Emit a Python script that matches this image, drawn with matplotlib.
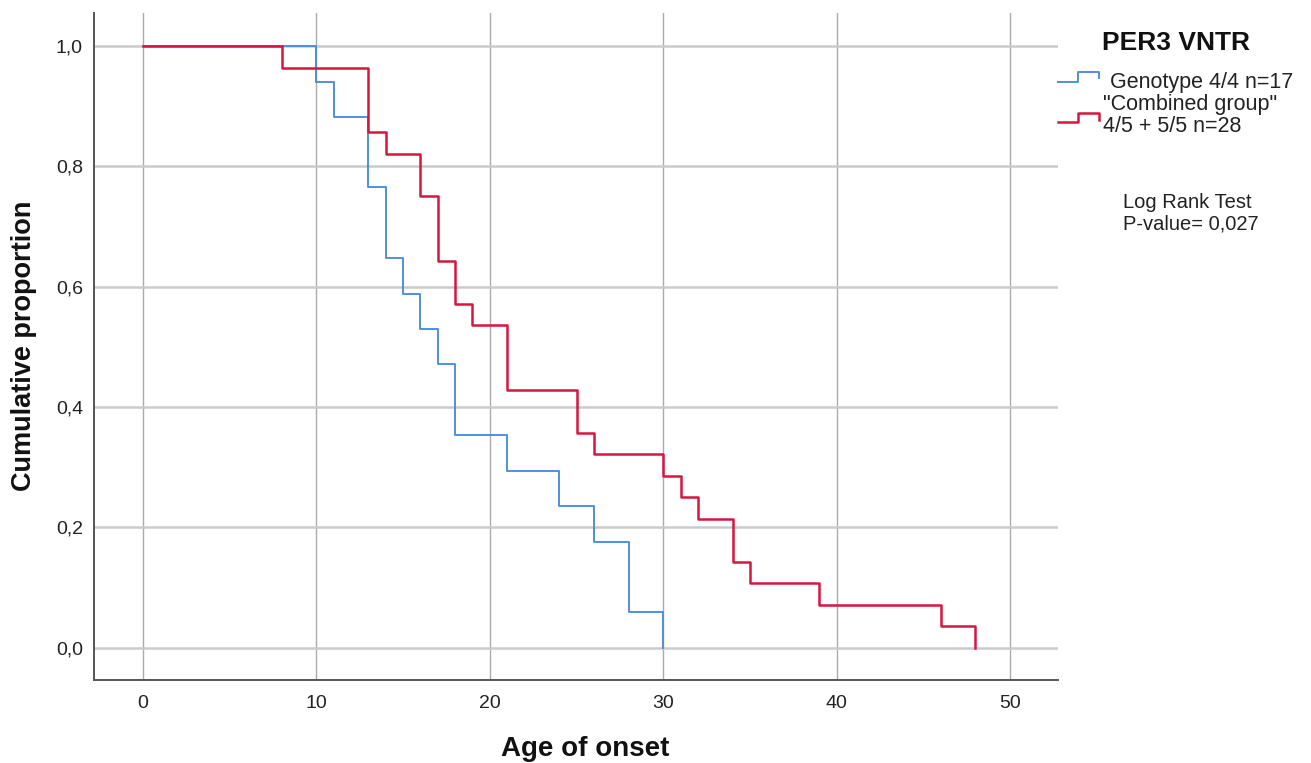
import matplotlib
matplotlib.use("Agg")
import matplotlib.pyplot as plt
from matplotlib.lines import Line2D

plt.rcParams['font.family'] = ['Liberation Sans', 'DejaVu Sans']

# ---- data ----
times_44 = [0, 10, 11, 13, 14, 15, 16, 17, 18, 21, 24, 26, 28, 30]
surv_44 = [1.0, 0.941, 0.882, 0.765, 0.647, 0.588, 0.529, 0.471, 0.353,
           0.294, 0.235, 0.176, 0.059, 0.0]

times_comb = [0, 8, 13, 14, 16, 17, 18, 19, 21, 25, 26, 30, 31, 32, 34, 35,
              39, 46, 48]
surv_comb = [1.0, 0.964, 0.857, 0.821, 0.750, 0.643, 0.571, 0.536, 0.429,
             0.357, 0.321, 0.286, 0.250, 0.214, 0.143, 0.107, 0.071, 0.036,
             0.0]

x_ticks = [0, 10, 20, 30, 40, 50]
y_ticks = [0.0, 0.2, 0.4, 0.6, 0.8, 1.0]
y_tick_labels = ['0,0', '0,2', '0,4', '0,6', '0,8', '1,0']

label_44 = ' Genotype 4/4 n=17'
label_comb_1 = '"Combined group"'
label_comb_2 = '4/5 + 5/5 n=28'
legend_title = 'PER3 VNTR'
test_lines = ['Log Rank Test', 'P-value= 0,027']

BLUE = '#4f8fe0'
RED = '#d6163f'

W, H = 1311, 763
fig = plt.figure(figsize=(W / 100, H / 100), dpi=100)


def fx(px):
    return px / W


def fy(py):
    return 1 - py / H


L, R, T, B = 94, 1058, 13, 680
ax = fig.add_axes([fx(L), fy(B), fx(R - L), (B - T) / H])

ax.set_xlim(-2.83, 52.77)
ax.set_ylim(-0.054, 1.055)

# grid
for xv in x_ticks:
    ax.axvline(xv, color='#ababab', lw=1.0, zorder=1)
for yv in y_ticks:
    ax.axhline(yv, color='#cacaca', lw=1.8, zorder=1)

ax.step(times_44, surv_44, where='post', color=BLUE, lw=1.4, zorder=3)
ax.step(times_comb, surv_comb, where='post', color=RED, lw=1.8, zorder=4)

ax.set_xticks(x_ticks)
ax.set_xticklabels([str(v) for v in x_ticks])
ax.set_yticks(y_ticks)
ax.set_yticklabels(y_tick_labels)
ax.tick_params(axis='both', length=0, labelsize=14, colors='#222222')
ax.tick_params(axis='x', pad=11)
ax.tick_params(axis='y', pad=8)

for s in ['top', 'right']:
    ax.spines[s].set_visible(False)
for s in ['left', 'bottom']:
    ax.spines[s].set_color('#555555')
    ax.spines[s].set_linewidth(1.4)

# axis labels
fig.text(fx(585), fy(756), 'Age of onset', fontsize=20, fontweight='bold',
         ha='center', va='baseline', color='#111111')
fig.text(fx(24), fy(346), 'Cumulative proportion', fontsize=19.5,
         fontweight='bold', ha='center', va='center', rotation=90,
         color='#111111')

# legend
fig.text(fx(1102), fy(50), legend_title, fontsize=19, fontweight='bold',
         ha='left', va='baseline', color='#111111')


def legend_symbol(y_low, y_high, y_tick, color, lw):
    xs = [1058, 1078, 1078, 1099, 1099]
    ys = [y_low, y_low, y_high, y_high, y_tick]
    fig.add_artist(Line2D([fx(v) for v in xs], [fy(v) for v in ys],
                          color=color, lw=lw, transform=fig.transFigure))


legend_symbol(82, 72, 78, BLUE, 1.4)
legend_symbol(122, 113, 120, RED, 1.8)

fig.text(fx(1104), fy(88), label_44, fontsize=15.5, ha='left',
         va='baseline', color='#222222')
fig.text(fx(1103), fy(110), label_comb_1, fontsize=15.5, ha='left',
         va='baseline', color='#222222')
fig.text(fx(1103), fy(132), label_comb_2, fontsize=15.5, ha='left',
         va='baseline', color='#222222')

fig.text(fx(1123), fy(208), test_lines[0], fontsize=14.5, ha='left',
         va='baseline', color='#222222')
fig.text(fx(1123), fy(230), test_lines[1], fontsize=14.5, ha='left',
         va='baseline', color='#222222')

fig.savefig('out.png', dpi=100, facecolor='white')
